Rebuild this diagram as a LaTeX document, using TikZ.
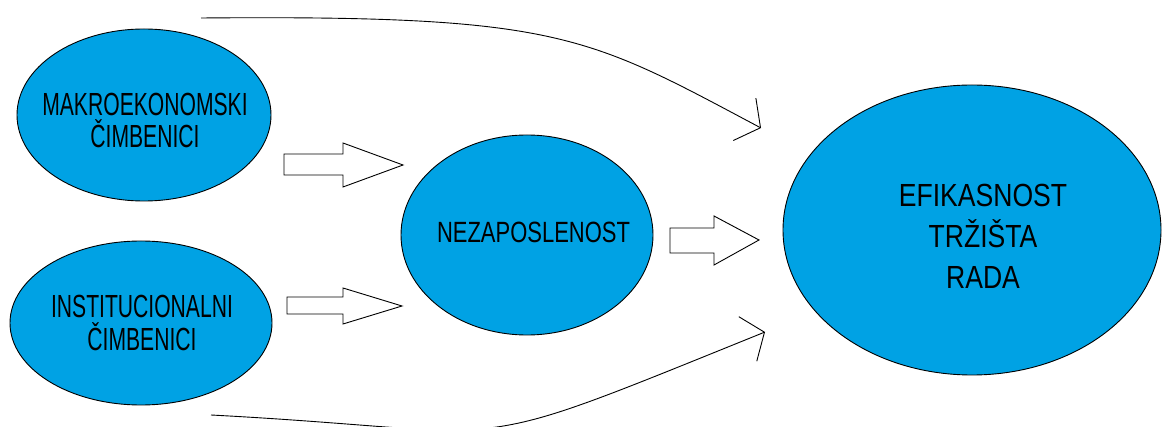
\documentclass[tikz,border=0pt]{standalone}
\usepackage{fontspec}
\setmainfont{Liberation Sans}
\newfontfamily\fnarrow[FakeStretch=0.66]{Liberation Sans}
\newfontfamily\fmid[FakeStretch=0.75]{Liberation Sans}
\newfontfamily\fwide[FakeStretch=0.83]{Liberation Sans}
\usetikzlibrary{shapes.geometric,arrows.meta}
\definecolor{blobblue}{RGB}{0,162,228}
\tikzset{
  blob/.style={ellipse, draw=black, fill=blobblue, line width=0.9pt, inner sep=0pt},
  txt/.style={align=center, inner sep=0pt, text=black},
  barrow/.style={draw=black, fill=white, line width=0.9pt, line join=miter},
  curvearrow/.style={draw=black, line width=0.9pt, -{Straight Barb[length=18pt,width=48pt,line width=0.9pt]}}
}
\begin{document}
\begin{tikzpicture}[x=1pt,y=-1pt]
\useasboundingbox (0,0) rectangle (1162,427);
\clip (0,0) rectangle (1162,427);
% ellipses
\node[blob, minimum width=254pt, minimum height=172pt] (m) at (144,115) {};
\node[blob, minimum width=262pt, minimum height=164pt] (i) at (141,323) {};
\node[blob, minimum width=252pt, minimum height=200pt] (n) at (527,235) {};
\node[blob, minimum width=378pt, minimum height=290pt] (e) at (972,230) {};
% texts
\node[txt, font=\fnarrow\fontsize{32}{32}\selectfont] (mt) at (145,120.5) {MAKROEKONOMSKI\\ČIMBENICI};
\node[txt, font=\fnarrow\fontsize{32}{33}\selectfont] (it) at (142,322.5) {INSTITUCIONALNI\\ČIMBENICI};
\node[txt, font=\fmid\fontsize{29.3}{30}\selectfont] (nt) at (533.5,232.5) {NEZAPOSLENOST};
\node[txt, font=\fwide\fontsize{32}{41}\selectfont] (et) at (983,236) {EFIKASNOST\\TRŽIŠTA\\RADA};
% block arrows
\draw[barrow] (284,154) -- (343,154) -- (343,143) -- (403,165) -- (343,187) -- (343,175) -- (284,175) -- cycle;
\draw[barrow] (287,297) -- (343,297) -- (343,288) -- (402,306) -- (343,324) -- (343,314) -- (287,314) -- cycle;
\draw[barrow] (670,228) -- (714,228) -- (714,216) -- (759,240) -- (714,265) -- (714,253) -- (670,253) -- cycle;
% curved arrows
\coordinate (ts) at (201,18);
\coordinate (te) at (761,128);
\coordinate (bs) at (211,415);
\coordinate (be) at (765,332);
\draw[curvearrow] (ts) .. controls (560,15) and (586,35) .. (te);
\draw[curvearrow] (bs) .. controls (533,432) and (448,460) .. (be);
\end{tikzpicture}
\end{document}
